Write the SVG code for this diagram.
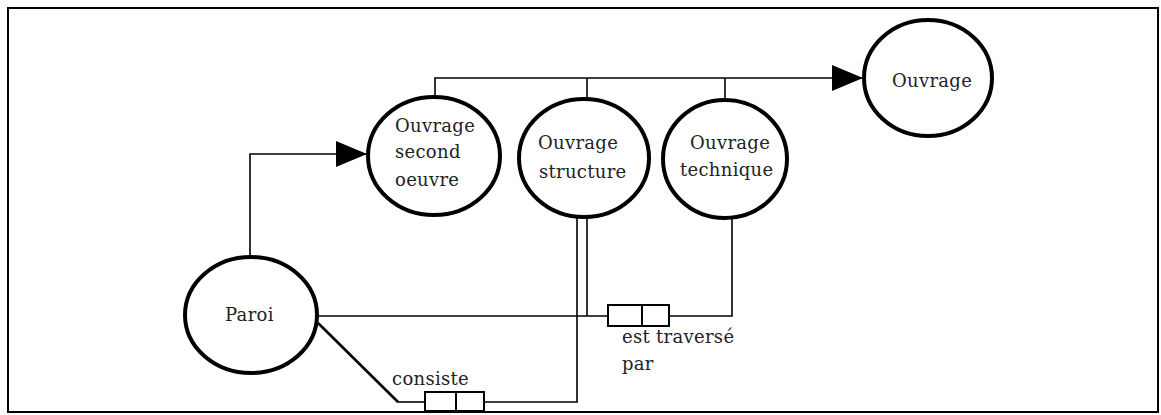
<svg xmlns="http://www.w3.org/2000/svg" width="1161" height="415" viewBox="0 0 1161 415">
<style>
.node{fill:#fff;stroke:#000;stroke-width:4}
.c{fill:none;stroke:#000;stroke-width:1.6}
.box{fill:#fff;stroke:#000;stroke-width:2}
.t{font-family:"DejaVu Serif","Liberation Serif",serif;font-size:18px;fill:#222;letter-spacing:0.3px}
</style>
<defs>
<marker id="arr" markerWidth="31" markerHeight="26" refX="31" refY="13" markerUnits="userSpaceOnUse" orient="auto">
<path d="M0,0 L31,13 L0,26 Z" fill="#000"/>
</marker>
</defs>
<rect x="0" y="0" width="1161" height="415" fill="#fff"/>
<rect x="8" y="8" width="1150" height="404" fill="none" stroke="#000" stroke-width="2"/>
<g id="connectors">
<path class="c" d="M250,257 V154 H367" marker-end="url(#arr)"/>
<path class="c" d="M435,97 V78 H863" marker-end="url(#arr)"/>
<path class="c" d="M587,78 V100"/>
<path class="c" d="M725,78 V100"/>
<path class="c" d="M317,316 H608"/>
<path class="c" d="M669,316 H732 V218"/>
<path class="c" d="M587,217 V316"/>
<path class="c" d="M577,216 V402 H484"/>
<path class="c" d="M425,402 H398"/>
<path class="c" d="M398,402 L318,323" style="stroke-width:2.6"/>
<g id="rel-traverse">
<rect class="box" x="608" y="305" width="61" height="21"/>
<line class="box" x1="642" y1="305" x2="642" y2="326"/>
<text class="t" x="622" y="343">est traversé</text>
<text class="t" x="622" y="370">par</text>
</g>
<g id="rel-consiste">
<rect class="box" x="425" y="392" width="59" height="19"/>
<line class="box" x1="456" y1="392" x2="456" y2="411"/>
<text class="t" x="392" y="385">consiste</text>
</g>
</g>
<g id="ouvrage">
<ellipse class="node" cx="928" cy="78" rx="64" ry="58"/>
<text class="t" x="892" y="87">Ouvrage</text>
</g>
<g id="second-oeuvre">
<ellipse class="node" cx="434" cy="156" rx="66" ry="59"/>
<text class="t" x="395" y="132">Ouvrage</text>
<text class="t" x="395" y="158">second</text>
<text class="t" x="395" y="186">oeuvre</text>
</g>
<g id="structure">
<ellipse class="node" cx="584" cy="158" rx="65" ry="59"/>
<text class="t" x="538" y="149">Ouvrage</text>
<text class="t" x="539" y="178">structure</text>
</g>
<g id="technique">
<ellipse class="node" cx="725" cy="159" rx="62" ry="59"/>
<text class="t" x="690" y="149">Ouvrage</text>
<text class="t" x="680" y="176">technique</text>
</g>
<g id="paroi">
<ellipse class="node" cx="251" cy="315" rx="66" ry="58"/>
<text class="t" x="225" y="321">Paroi</text>
</g>
</svg>
